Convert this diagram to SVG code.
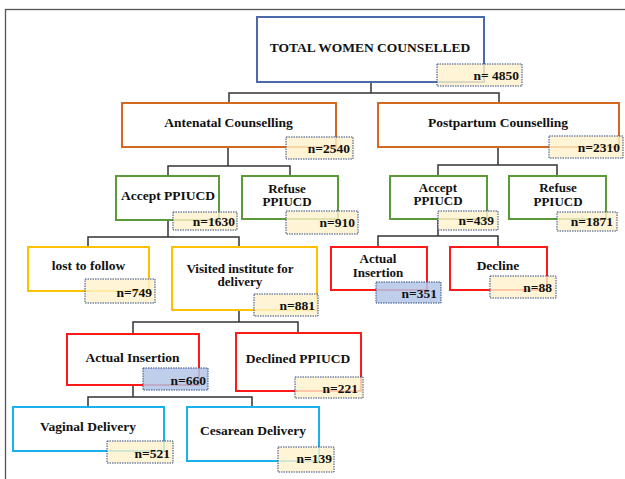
<svg xmlns="http://www.w3.org/2000/svg" width="625" height="479" viewBox="0 0 625 479">
<style>
text{font-family:"Liberation Serif","Times New Roman",serif;font-weight:bold;font-size:13.5px;fill:#111}
.t{text-anchor:middle}
.n{text-anchor:end}
.m{font-size:13px}
.box{fill:#fff;stroke-width:2}
.blue{stroke:#4a6aab}
.orange{stroke:#d2691e}
.green{stroke:#5b9a3a}
.yellow{stroke:#ffc000}
.red{stroke:#ff1a1a}
.cyan{stroke:#1ab2ee}
.lab{fill:#fff2cc;fill-opacity:0.8;stroke:#2f4a80;stroke-width:1;stroke-dasharray:1.5 1}
.labb{fill:#b4c7e7;fill-opacity:0.85;stroke:#2f4a80;stroke-width:1;stroke-dasharray:1.5 1}
.con{fill:none;stroke:#333;stroke-width:1.5}
</style>
<rect x="5.5" y="9.5" width="640" height="490" fill="none" stroke="#555" stroke-width="1.3"/>
<g id="connectors">
<path class="con" d="M371 83V93M229 103V93H499V103"/>
<path class="con" d="M228 147V166M168 176V166H290V176"/>
<path class="con" d="M498 147V165M438 176V165H557V176"/>
<path class="con" d="M168 220V237M88 247V237H239V247"/>
<path class="con" d="M438 219V236M378 247V236H498V247"/>
<path class="con" d="M239 310V322M133 334V322H298V333"/>
<path class="con" d="M133 385V397M88 407V397H252V407"/>
</g>
<g id="total">
<rect class="box blue" x="257" y="17" width="227" height="65"/>
<text class="t" x="370" y="51.5">TOTAL WOMEN COUNSELLED</text>
<rect class="lab" x="437" y="64" width="85" height="22"/>
<text class="n" x="519" y="79.5">n= 4850</text>
</g>
<g id="antenatal">
<rect class="box orange" x="122" y="103" width="214" height="44"/>
<text class="t" x="228.5" y="126.5">Antenatal Counselling</text>
<rect class="lab" x="286" y="137" width="67" height="22"/>
<text class="n" x="350" y="152.5">n=2540</text>
</g>
<g id="postpartum">
<rect class="box orange" x="378" y="103" width="241" height="44"/>
<text class="t" x="498" y="126.5">Postpartum Counselling</text>
<rect class="lab" x="549" y="136" width="74" height="22"/>
<text class="n" x="620" y="151.5">n=2310</text>
</g>
<g id="accept-ante">
<rect class="box green" x="116" y="176" width="103" height="44"/>
<text class="t" x="168" y="199.5">Accept PPIUCD</text>
<rect class="lab" x="173" y="212" width="64" height="18"/>
<text class="n" x="235" y="225.5">n=1630</text>
</g>
<g id="refuse-ante">
<rect class="box green" x="242" y="176" width="96" height="43"/>
<text class="t m" x="287" y="192.5">Refuse</text>
<text class="t m" x="287" y="206">PPIUCD</text>
<rect class="lab" x="286" y="211" width="72" height="23"/>
<text class="n" x="355" y="226.5">n=910</text>
</g>
<g id="accept-pp">
<rect class="box green" x="390" y="176" width="97" height="43"/>
<text class="t m" x="438" y="191.5">Accept</text>
<text class="t m" x="438" y="205">PPIUCD</text>
<rect class="lab" x="438" y="211" width="60" height="19"/>
<text class="n" x="494" y="224.5">n=439</text>
</g>
<g id="refuse-pp">
<rect class="box green" x="509" y="176" width="97" height="43"/>
<text class="t m" x="558" y="192">Refuse</text>
<text class="t m" x="558" y="205.5">PPIUCD</text>
<rect class="lab" x="557" y="212" width="60" height="19"/>
<text class="n" x="613" y="225.5">n=1871</text>
</g>
<g id="lost">
<rect class="box yellow" x="28" y="247" width="121" height="44"/>
<text class="t" x="88.5" y="269.5">lost to follow</text>
<rect class="lab" x="85" y="279" width="70" height="24"/>
<text class="n" x="152" y="296.5">n=749</text>
</g>
<g id="visited">
<rect class="box yellow" x="172" y="247" width="145" height="63"/>
<text class="t m" x="240" y="272.5">Visited institute for</text>
<text class="t m" x="240" y="286">delivery</text>
<rect class="lab" x="254" y="294" width="64" height="22"/>
<text class="n" x="315" y="309.5">n=881</text>
</g>
<g id="insertion-pp">
<rect class="box red" x="331" y="247" width="96" height="43"/>
<text class="t m" x="378" y="263">Actual</text>
<text class="t m" x="378" y="276.5">Insertion</text>
<rect class="labb" x="376" y="282" width="65" height="21"/>
<text class="n" x="437" y="297.5">n=351</text>
</g>
<g id="decline-pp">
<rect class="box red" x="450" y="247" width="97" height="43"/>
<text class="t" x="498" y="269.5">Decline</text>
<rect class="lab" x="490" y="276" width="66" height="22"/>
<text class="n" x="552" y="291.5">n=88</text>
</g>
<g id="insertion-ante">
<rect class="box red" x="67" y="334" width="132" height="51"/>
<text class="t" x="132.5" y="361.5">Actual Insertion</text>
<rect class="labb" x="143" y="368" width="65" height="22"/>
<text class="n" x="206" y="384.5">n=660</text>
</g>
<g id="declined-ante">
<rect class="box red" x="236" y="333" width="125" height="58"/>
<text class="t" x="298" y="362.5">Declined PPIUCD</text>
<rect class="lab" x="295" y="377" width="68" height="21"/>
<text class="n" x="358" y="392.5">n=221</text>
</g>
<g id="vaginal">
<rect class="box cyan" x="13" y="407" width="151" height="44"/>
<text class="t" x="88" y="430.5">Vaginal Delivery</text>
<rect class="lab" x="107" y="441" width="66" height="22"/>
<text class="n" x="170" y="457.5">n=521</text>
</g>
<g id="cesarean">
<rect class="box cyan" x="187" y="407" width="132" height="54"/>
<text class="t" x="253" y="434.5">Cesarean Delivery</text>
<rect class="lab" x="278" y="447" width="56" height="25"/>
<text class="n" x="332" y="462.5">n=139</text>
</g>
</svg>
